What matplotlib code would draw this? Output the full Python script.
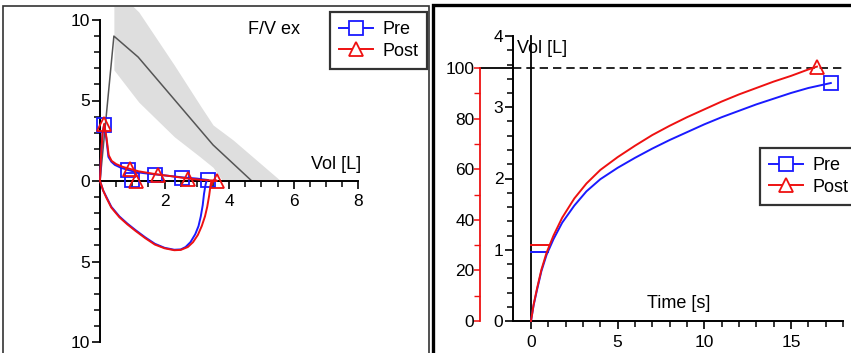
import matplotlib
matplotlib.use("Agg")
import matplotlib.pyplot as plt
import numpy as np
from matplotlib.ticker import FuncFormatter, FixedLocator
from matplotlib.lines import Line2D
from matplotlib.patches import Rectangle

plt.rcParams['font.family'] = ['Liberation Sans', 'DejaVu Sans']

# ---------------- data: flow-volume (left) ----------------
pred_vol = [0, 0.43, 1.18, 3.5, 4.7]
pred_flow = [0, 9.0, 7.7, 2.24, 0]
band_vol = [0.43, 1.2, 2.3, 3.1, 3.5, 3.8, 4.12, 5.6]
band_hi = [12.0, 10.5, 7.2, 4.7, 3.48, 3.03, 2.55, 0.0]
band_lo = [6.9, 4.9, 2.75, 1.5, 0.85, 0.0, 0.0, 0.0]

pre_vol = [0, 0.03, 0.08, 0.13, 0.2, 0.26, 0.35, 0.46, 0.65, 0.88, 1.1, 1.39, 1.9, 2.53, 3.0, 3.35, 3.3,
           3.27, 3.22, 3.18, 3.12, 3.05, 2.95, 2.8, 2.65, 2.5, 2.3, 2.0, 1.7, 1.4, 1.1, 0.85, 0.6, 0.35, 0.2, 0.1, 0]
pre_flow = [0, 1.5, 3.0, 3.5, 2.6, 1.5, 1.2, 1.0, 0.82, 0.68, 0.56, 0.48, 0.37, 0.23, 0.15, 0.06, 0,
            -0.2, -0.8, -1.5, -2.2, -2.8, -3.3, -3.8, -4.1, -4.25, -4.27, -4.15, -3.9, -3.5, -3.05, -2.65, -2.2, -1.6, -1.0, -0.6, 0]
post_vol = [0, 0.03, 0.08, 0.13, 0.2, 0.27, 0.36, 0.5, 0.7, 0.93, 1.2, 1.5, 1.8, 2.2, 2.73, 3.2, 3.62, 3.45,
            3.42, 3.38, 3.32, 3.25, 3.15, 3.03, 2.88, 2.72, 2.5, 2.3, 2.0, 1.7, 1.4, 1.1, 0.85, 0.6, 0.35, 0.2, 0.1, 0]
post_flow = [0, 1.5, 3.0, 3.55, 2.7, 1.6, 1.25, 1.05, 0.88, 0.75, 0.6, 0.5, 0.4, 0.3, 0.15, 0.06, 0.02, 0,
             -0.3, -0.9, -1.6, -2.2, -2.8, -3.35, -3.8, -4.1, -4.28, -4.3, -4.18, -3.95, -3.55, -3.1, -2.7, -2.25, -1.65, -1.05, -0.6, 0]
pre_mk_vol = [0.12, 0.88, 1.0, 1.7, 2.55, 3.35]
pre_mk_flow = [3.5, 0.68, 0.05, 0.37, 0.17, 0.06]
post_mk_vol = [0.12, 0.93, 1.1, 1.8, 2.73, 3.62]
post_mk_flow = [3.55, 0.75, 0.03, 0.35, 0.12, 0.02]

# ---------------- data: volume-time (right) ----------------
pre_t = [0, 0.15, 0.35, 0.6, 0.9, 1.3, 1.8, 2.5, 3.2, 4, 5, 6, 7, 8, 9, 10, 11, 12, 13, 14, 15, 16, 17.3]
pre_v = [0, 0.22, 0.44, 0.7, 0.93, 1.15, 1.38, 1.62, 1.82, 1.99, 2.15, 2.29, 2.42, 2.54, 2.65, 2.76, 2.86,
         2.95, 3.04, 3.12, 3.2, 3.27, 3.34]
post_t = [0, 0.15, 0.35, 0.6, 0.9, 1.3, 1.8, 2.5, 3.2, 4, 5, 6, 7, 8, 9, 10, 11, 12, 13, 14, 15, 16, 16.5]
post_v = [0, 0.23, 0.46, 0.72, 0.96, 1.2, 1.45, 1.72, 1.93, 2.12, 2.3, 2.46, 2.61, 2.74, 2.86, 2.97, 3.08,
          3.18, 3.27, 3.36, 3.44, 3.53, 3.57]
fev1_pre = 0.97
fev1_post = 1.07
fvc_pred = 3.55   # litres corresponding to 100 %

W, H = 851, 353
fig = plt.figure(figsize=(W / 100, H / 100), dpi=100)

def rect(x0, y0, x1, y1):
    return [x0 / W, 1 - y1 / H, (x1 - x0) / W, (y1 - y0) / H]

BLUE = '#1a1aff'
RED = '#ee1111'
TFS = 12.5
LFS = 13

# ---------------- left panel ----------------
# pixel mapping: px = 100 + 32.3*x ; py = 181 - 16.1*y
lx0, lx1, ly0, ly1 = 3, 427, 7, 353
axL = fig.add_axes(rect(lx0, ly0, lx1, ly1))
axL.set_xlim((lx0 - 100) / 32.3, (lx1 - 100) / 32.3)
axL.set_ylim((181 - ly1) / 16.1, (181 - ly0) / 16.1)
axL.patch.set_alpha(0)
for s in ['top', 'right']:
    axL.spines[s].set_visible(False)
axL.spines['left'].set_position(('data', 0))
axL.spines['bottom'].set_position(('data', 0))
axL.spines['left'].set_bounds(-10, 10)
axL.spines['bottom'].set_bounds(0, 8)
for s in ['left', 'bottom']:
    axL.spines[s].set_linewidth(1.4)
axL.yaxis.set_major_locator(FixedLocator([-10, -5, 0, 5, 10]))
axL.yaxis.set_minor_locator(FixedLocator(list(range(-10, 11))))
axL.xaxis.set_major_locator(FixedLocator([2, 4, 6, 8]))
axL.xaxis.set_minor_locator(FixedLocator(list(np.arange(0, 8.01, 0.5))))
axL.yaxis.set_major_formatter(FuncFormatter(lambda v, p: f"{abs(v):g}"))
axL.tick_params(which='major', length=6, width=1.2, labelsize=TFS, pad=1)
axL.tick_params(which='minor', length=4, width=1.1)
axL.tick_params(axis='x', direction='out', pad=3)

axL.fill_between(band_vol, band_lo, band_hi, color='#dedede', lw=0, zorder=1)
axL.plot(pred_vol, pred_flow, color='#555555', lw=1.1, zorder=2)
axL.plot(pre_vol, pre_flow, color=BLUE, lw=1.4, zorder=3)
axL.plot(post_vol, post_flow, color=RED, lw=1.4, zorder=4)
axL.plot(pre_mk_vol, pre_mk_flow, ls='none', marker='s', ms=10, mfc='none', mec=BLUE, mew=1.3, zorder=3)
axL.plot(post_mk_vol, post_mk_flow, ls='none', marker='^', ms=10, mfc='none', mec=RED, mew=1.3, zorder=4)
axL.text(5.4, 9.4, 'F/V ex', fontsize=LFS, ha='center', va='center')
axL.text(7.3, 1.05, 'Vol [L]', fontsize=LFS, ha='center', va='center')

h_pre = Line2D([], [], color=BLUE, lw=1.4, marker='s', ms=10, mfc='white', mec=BLUE, mew=1.3)
h_post = Line2D([], [], color=RED, lw=1.4, marker='^', ms=10, mfc='white', mec=RED, mew=1.3)
leg_kw = dict(loc='upper left', fontsize=LFS, frameon=True, fancybox=False, edgecolor='black',
              handlelength=1.9, handletextpad=0.5, labelspacing=0.25, borderpad=0.5, borderaxespad=0)
legL = fig.legend([h_pre, h_post], ['Pre', 'Post'], bbox_to_anchor=(330 / W, 1 - 12 / H), **leg_kw)
legL.get_frame().set_linewidth(1.6)

# ---------------- right panel ----------------
# pixel mapping: px = 531 + 17.33*t ; py = 321 - 71.25*v
rx0, rx1, ry0, ry1 = 434, 851, 6, 353
axR = fig.add_axes(rect(rx0, ry0, rx1, ry1))
axR.set_xlim((rx0 - 531) / 17.33, (rx1 - 531) / 17.33)
yl = ((321 - ry1) / 71.25, (321 - ry0) / 71.25)
axR.set_ylim(*yl)
axR.patch.set_alpha(0)
for s in ['top', 'right']:
    axR.spines[s].set_visible(False)
vspine = (513 - 531) / 17.33
pspine = (480 - 531) / 17.33
axR.spines['left'].set_position(('data', vspine))
axR.spines['bottom'].set_position(('data', 0))
axR.spines['left'].set_bounds(0, 4)
axR.spines['bottom'].set_bounds(vspine, 18)
for s in ['left', 'bottom']:
    axR.spines[s].set_linewidth(1.4)
axR.yaxis.set_major_locator(FixedLocator([0, 1, 2, 3, 4]))
axR.yaxis.set_minor_locator(FixedLocator(list(np.arange(0, 4.01, 0.2))))
axR.xaxis.set_major_locator(FixedLocator([0, 5, 10, 15]))
axR.xaxis.set_minor_locator(FixedLocator(list(range(0, 19))))
axR.tick_params(which='major', length=6, width=1.2, labelsize=TFS, pad=1)
axR.tick_params(which='minor', length=4, width=1.1)
axR.tick_params(axis='x', pad=4)

axP = axR.twinx()
axP.set_ylim(yl[0] * 100 / fvc_pred, yl[1] * 100 / fvc_pred)
axP.patch.set_alpha(0)
for s in ['top', 'right', 'bottom']:
    axP.spines[s].set_visible(False)
axP.spines['left'].set_visible(True)
axP.yaxis.tick_left()
axP.spines['left'].set_position(('data', pspine))
axP.spines['left'].set_bounds(0, 100)
axP.spines['left'].set_color(RED)
axP.spines['left'].set_linewidth(1.3)
axP.yaxis.set_major_locator(FixedLocator([0, 20, 40, 60, 80, 100]))
axP.yaxis.set_minor_locator(FixedLocator(list(range(0, 101, 10))))
axP.tick_params(axis='y', which='both', colors=RED, labelcolor='black', labelsize=TFS)
axP.tick_params(axis='y', which='major', length=4, width=1.1, pad=0)
axP.tick_params(axis='y', which='minor', length=4, width=1.0)

axR.plot([0, 0], [0, 4], color='black', lw=1.3, zorder=2)
axR.plot([pspine, vspine], [fvc_pred, fvc_pred], color='black', lw=1.3, zorder=2)
axR.plot([vspine, 18], [fvc_pred, fvc_pred], color='black', lw=1.2, ls=(0, (5, 3)), zorder=2)
axR.plot([0, 1], [fev1_pre, fev1_pre], color=BLUE, lw=1.4, zorder=3)
axR.plot([0, 1], [fev1_post, fev1_post], color=RED, lw=1.4, zorder=3)
axR.plot(pre_t, pre_v, color=BLUE, lw=1.4, zorder=3)
axR.plot(post_t, post_v, color=RED, lw=1.4, zorder=4)
axR.plot(pre_t[-1], pre_v[-1], marker='s', ms=10, mfc='none', mec=BLUE, mew=1.3, zorder=5)
axR.plot(post_t[-1], post_v[-1], marker='^', ms=10, mfc='none', mec=RED, mew=1.3, zorder=5)
axR.text(-0.8, 3.83, 'Vol [L]', fontsize=LFS, ha='left', va='center')
axR.text(8.5, 0.24, 'Time [s]', fontsize=LFS, ha='center', va='center')

legR = fig.legend([h_pre, h_post], ['Pre', 'Post'], bbox_to_anchor=(760 / W, 1 - 148 / H), **leg_kw)
legR.get_frame().set_linewidth(1.6)

# panel frames
fig.add_artist(Rectangle((2.5 / W, -0.1), (429 - 2.5) / W, 1.1 - 6 / H, transform=fig.transFigure,
                         fill=False, edgecolor='#333333', lw=1.2))
fig.add_artist(Rectangle((432.5 / W, -0.1), (900 - 432.5) / W, 1.1 - 5 / H, transform=fig.transFigure,
                         fill=False, edgecolor='black', lw=2.4))

fig.savefig('out.png', dpi=100)
